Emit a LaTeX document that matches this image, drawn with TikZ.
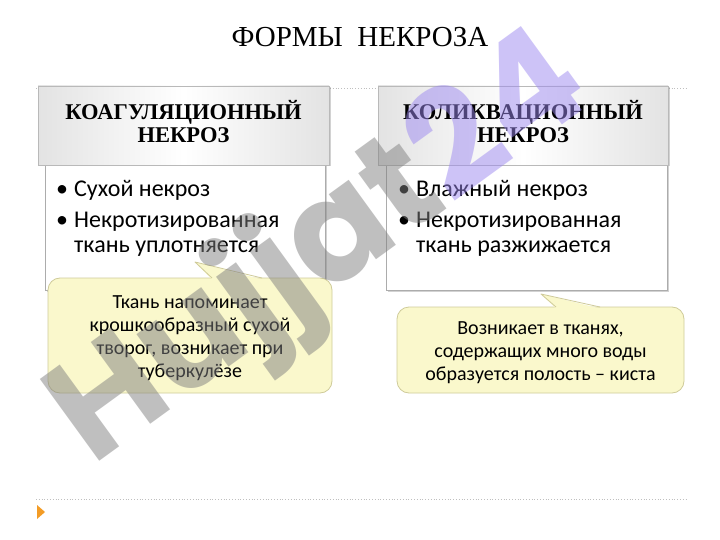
\documentclass[tikz,border=0pt]{standalone}
\usepackage{fontspec}
\setmainfont{Liberation Serif}
\newfontfamily\bodyfont{Carlito}
\newfontfamily\wmfont{Poppins}
\usetikzlibrary{shadows,calc}
\definecolor{notefill}{HTML}{FAF8CC}
\definecolor{noteline}{HTML}{CFCB9A}
\definecolor{wmgray}{HTML}{808080}
\definecolor{wmlav}{HTML}{9C88F0}
\definecolor{arrorange}{HTML}{F39C26}
\tikzset{
  headbox/.style={draw=gray!55, line width=0.8pt, left color=gray!22, right color=gray!22, middle color=white,
    drop shadow={shadow xshift=1.5pt, shadow yshift=-1.5pt, opacity=0.35}, inner sep=0pt},
  headtext/.style={align=center, font=\bfseries\fontsize{22.5}{23}\selectfont, inner sep=0pt},
  bodybox/.style={draw=gray!65, line width=1pt, fill=white,
    drop shadow={shadow xshift=1.5pt, shadow yshift=-1.5pt, opacity=0.35}, inner sep=0pt},
  bodytext/.style={anchor=north west, align=left, inner sep=0pt, font=\bodyfont\fontsize{24}{25}\selectfont},
  notebox/.style={draw=noteline, line width=0.8pt, fill=notefill, rounded corners=12pt, inner sep=0pt},
  notetext/.style={align=center, inner sep=0pt, font=\bodyfont\fontsize{20}{23}\selectfont},
  dotline/.style={gray!50, line width=0.8pt, dotted},
}
\newcommand{\bul}{\makebox[18pt][l]{•}}
\begin{document}
\begin{tikzpicture}[x=1pt,y=-1pt]
\useasboundingbox (0,0) rectangle (720,540);
\fill[white] (0,0) rectangle (720,540);

% title
\node[font=\fontsize{29}{30}\selectfont, inner sep=0pt] (title) at (360,37) {ФОРМЫ\ \ НЕКРОЗА};

% dotted rules
\coordinate (t1) at (36,88); \coordinate (t2) at (688,88);
\coordinate (b1) at (36,499); \coordinate (b2) at (688,499);
\draw[dotline] (t1) -- (t2);
\draw[dotline] (b1) -- (b2);

% left column
\node[bodybox, minimum width=280, minimum height=125] (bodyL) at (185,227.5) {};
\node[headbox, minimum width=291, minimum height=79] (headL) at (183.5,125.5) {};
\node[headtext] (headLt) at (183.5,122) {КОАГУЛЯЦИОННЫЙ\\НЕКРОЗ};
\node[bodytext] (txtL) at (56,180) {\bul Сухой некроз\\[6pt]\bul Некротизированная\\\hspace*{18pt}ткань уплотняется};

% right column
\node[bodybox, minimum width=281, minimum height=125] (bodyR) at (526.5,227.5) {};
\node[headbox, minimum width=290, minimum height=79] (headR) at (523,125.5) {};
\node[headtext] (headRt) at (523,122) {КОЛИКВАЦИОННЫЙ\\НЕКРОЗ};
\node[bodytext] (txtR) at (398,180) {\bul Влажный некроз\\[6pt]\bul Некротизированная\\\hspace*{18pt}ткань разжижается};

% left callout
\node[notebox, minimum width=284, minimum height=115] (noteL) at (190,335.5) {};
\node[notetext] (noteLt) at (190,338.5) {Ткань напоминает\\крошкообразный сухой\\творог, возникает при\\туберкулёзе};
\coordinate (pL1) at (212,278);
\coordinate (pLt) at (195,262);
\coordinate (pL2) at (262,278);
\fill[notefill] ($(pL1)+(0,1.5)$) -- (pLt) -- ($(pL2)+(0,1.5)$) -- cycle;
\draw[noteline, line width=0.8pt, line join=round] (pL1) -- (pLt) -- (pL2);

% right callout
\node[notebox, minimum width=287, minimum height=86] (noteR) at (540.5,350) {};
\node[notetext] (noteRt) at (540.5,353) {Возникает в тканях,\\содержащих много воды\\образуется полость – киста};
\coordinate (pR1) at (556,307);
\coordinate (pRt) at (541,294);
\coordinate (pR2) at (600,307);
\fill[notefill] ($(pR1)+(0,1.5)$) -- (pRt) -- ($(pR2)+(0,1.5)$) -- cycle;
\draw[noteline, line width=0.8pt, line join=round] (pR1) -- (pRt) -- (pR2);

% orange marker
\coordinate (m1) at (37,505); \coordinate (m2) at (45,512); \coordinate (m3) at (37,519);
\fill[arrorange] (m1) -- (m2) -- (m3) -- cycle;

% watermark
\node[rotate=36, opacity=0.5, inner sep=0pt, font=\wmfont\bfseries\fontsize{144}{144}\selectfont] (wm) at (322,252)
  {\textcolor{wmgray}{Hujjat}\textcolor{wmlav}{24}};
\end{tikzpicture}
\end{document}
